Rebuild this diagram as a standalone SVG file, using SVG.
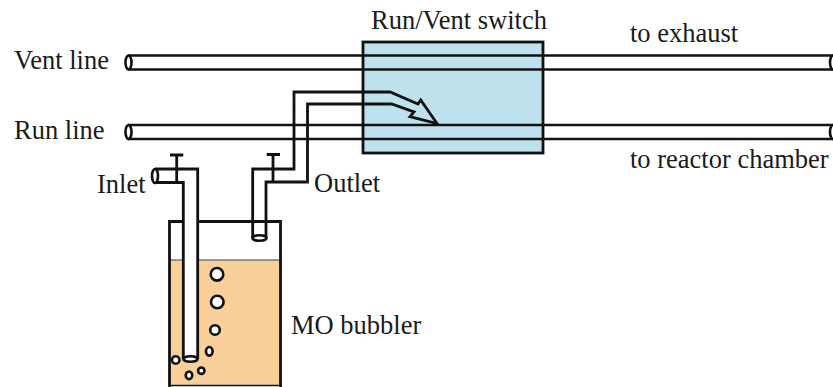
<svg xmlns="http://www.w3.org/2000/svg" width="833" height="387" viewBox="0 0 833 387">
<style>
text{font-family:"Liberation Serif","Times New Roman",serif;font-size:26.500px;fill:#1a1a1a}
.l{fill:none;stroke:#111;stroke-width:2.600;stroke-linejoin:miter}
.w{fill:#fff;stroke:#111;stroke-width:2.600}
.t{fill:none;stroke:#111;stroke-width:2.800}
</style>
<rect width="833" height="387" fill="#fff"/>
<g id="vent-line">
<ellipse class="w" cx="128.500" cy="62.500" rx="3" ry="7"/>
<path class="l" d="M128 55.500H833M128 69.500H833"/>
<ellipse class="w" cx="833" cy="62.500" rx="3" ry="7"/>
<text x="14" y="69">Vent line</text>
</g>
<g id="run-line">
<ellipse class="w" cx="128.500" cy="132" rx="3" ry="7"/>
<path class="l" d="M128 125H833M128 139H833"/>
<ellipse class="w" cx="833" cy="132" rx="3" ry="7"/>
<text x="14" y="139">Run line</text>
</g>
<g id="switch">
<rect x="363" y="42" width="180" height="111" fill="#bee2ed" stroke="#111" stroke-width="2.800"/>
<path class="l" d="M363 55.500H543M363 69.500H543M363 125H543M363 139H543"/>
<text x="371" y="29">Run/Vent switch</text>
</g>
<g id="labels">
<text x="630" y="42">to exhaust</text>
<text x="630" y="168">to reactor chamber</text>
</g>
<g id="bubbler">
<rect x="169.500" y="260" width="110.500" height="125" fill="#f9d09a"/>
<path d="M169.500 260H280" stroke="#777" stroke-width="1.500"/>
<path class="t" d="M169.500 387V221.500H280.500V387"/>
<path d="M169 385.500H281" fill="none" stroke="#111" stroke-width="1.500"/>
<circle class="w" cx="217" cy="274.300" r="6.300"/>
<circle class="w" cx="217.300" cy="302" r="6.300"/>
<circle class="w" cx="215" cy="330" r="4.800"/>
<ellipse class="w" cx="209.300" cy="351.300" rx="3.300" ry="4.300"/>
<circle class="w" cx="175.700" cy="360" r="3.800"/>
<ellipse class="w" cx="189" cy="375.300" rx="3.300" ry="3.800"/>
<circle class="w" cx="201.300" cy="370.700" r="3.200"/>
<text x="291" y="334">MO bubbler</text>
</g>
<g id="inlet">
<path d="M155 169H197.700V359H183.300V182.500H155Z" fill="#fff"/>
<path class="t" d="M155 169H197.700V359M155 182.500H183.300V359"/>
<ellipse class="w" cx="190.500" cy="359" rx="7" ry="2.800"/>
<ellipse class="w" cx="155" cy="176" rx="3" ry="7"/>
<path class="t" d="M176.700 182.500V155M170 155H183.300"/>
<text x="97" y="193">Inlet</text>
</g>
<g id="connectors">
<path class="t" d="M252.700 238V169H294V92H390L418 104L420.700 100L437 123.500L410 116.700L414 112L391.700 104H307.500V182H266V238"/>
<ellipse class="w" cx="259.500" cy="238" rx="7" ry="2.800"/>
<path class="t" d="M273 182V154.500M266.700 154.500H280"/>
<text x="314" y="192">Outlet</text>
</g>
</svg>
